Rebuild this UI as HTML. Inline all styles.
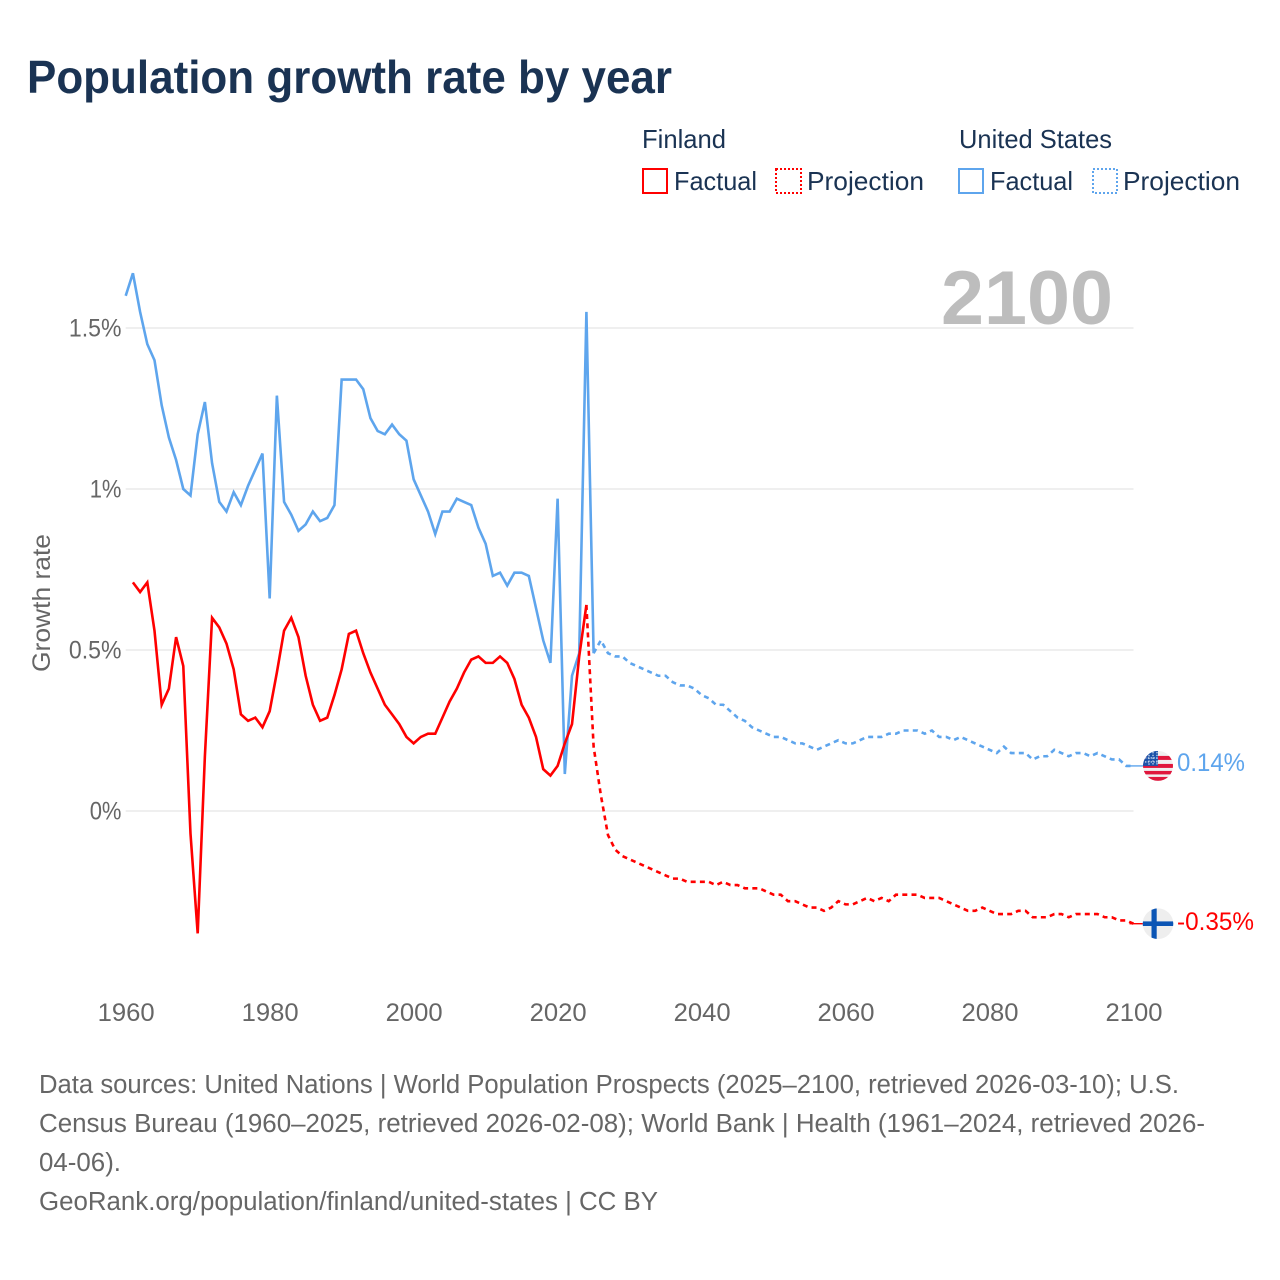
<!DOCTYPE html>
<html lang="en">
<head>
<meta charset="utf-8">
<title>Population growth rate by year</title>
<style>
html,body{margin:0;padding:0;background:#fff;}
svg{display:block;}
text{font-family:"Liberation Sans",sans-serif;}
</style>
</head>
<body>
<svg id="chart" xmlns="http://www.w3.org/2000/svg" width="1280" height="1280" viewBox="0 0 1280 1280">
  <text x="27" y="93" font-size="46" font-weight="700" fill="#1a3353" textLength="645" lengthAdjust="spacingAndGlyphs">Population growth rate by year</text>

  <g font-size="26" fill="#1a3353">
    <text x="642" y="148" textLength="84" lengthAdjust="spacingAndGlyphs">Finland</text>
    <rect x="643" y="169" width="24" height="24" fill="none" stroke="#ff0000" stroke-width="2"/>
    <text x="674" y="190" textLength="83" lengthAdjust="spacingAndGlyphs">Factual</text>
    <rect x="776" y="169" width="25" height="24" fill="none" stroke="#ff0000" stroke-width="2" stroke-dasharray="2 2"/>
    <text x="807" y="190" textLength="117" lengthAdjust="spacingAndGlyphs">Projection</text>
    <text x="959" y="148" textLength="153" lengthAdjust="spacingAndGlyphs">United States</text>
    <rect x="959" y="169" width="24" height="24" fill="none" stroke="#5ea5ed" stroke-width="2"/>
    <text x="990" y="190" textLength="83" lengthAdjust="spacingAndGlyphs">Factual</text>
    <rect x="1093" y="169" width="24" height="24" fill="none" stroke="#5ea5ed" stroke-width="2" stroke-dasharray="2 2"/>
    <text x="1123" y="190" textLength="117" lengthAdjust="spacingAndGlyphs">Projection</text>
  </g>

  <g id="grid"></g>

  <text x="1113" y="324" font-size="76" font-weight="700" fill="#bdbdbd" text-anchor="end" textLength="172" lengthAdjust="spacingAndGlyphs">2100</text>

  <g id="yticks"></g>
  <g id="xticks"></g>
  <text transform="translate(50,603) rotate(-90)" font-size="25" fill="#666666" text-anchor="middle" textLength="138" lengthAdjust="spacingAndGlyphs">Growth rate</text>

  <g id="series"></g>

  <g id="flag-us">
    <clipPath id="clip-us"><circle cx="0" cy="0" r="15"/></clipPath>
    <g clip-path="url(#clip-us)">
      <rect x="-15" y="-15" width="30" height="30" fill="#f0f0f0"/>
      <rect x="-15" y="-10" width="30" height="4" fill="#e0173d"/>
      <rect x="-15" y="-2" width="30" height="4" fill="#e0173d"/>
      <rect x="-15" y="5" width="30" height="3.5" fill="#e0173d"/>
      <rect x="-15" y="11" width="30" height="4" fill="#e0173d"/>
      <rect x="-15" y="-15" width="15" height="15" fill="#1b52a8"/>
      <path d="M-9-11v10M-5-14v13M-1-14v13M-13-8h13M-13-4h13" stroke="#e8eef8" stroke-width="1.1" stroke-dasharray="1.4 1.4" fill="none"/>
    </g>
  </g>
  <text id="label-us" x="1177" font-size="25" fill="#5ea5ed" textLength="68" lengthAdjust="spacingAndGlyphs"></text>

  <g id="flag-fi">
    <clipPath id="clip-fi"><circle cx="0" cy="0" r="15.3"/></clipPath>
    <g clip-path="url(#clip-fi)">
      <rect x="-16" y="-16" width="32" height="32" fill="#eeeeee"/>
      <rect x="-16" y="-2.3" width="32" height="4.6" fill="#0b55b5"/>
      <rect x="-6.5" y="-16" width="5.2" height="32" fill="#0b55b5"/>
    </g>
  </g>
  <text id="label-fi" x="1177" font-size="25" fill="#ff0000" textLength="77" lengthAdjust="spacingAndGlyphs"></text>

  <g font-size="25.5" fill="#666666">
    <text x="39" y="1093" textLength="1140" lengthAdjust="spacingAndGlyphs">Data sources: United Nations | World Population Prospects (2025–2100, retrieved 2026-03-10); U.S.</text>
    <text x="39" y="1132" textLength="1166" lengthAdjust="spacingAndGlyphs">Census Bureau (1960–2025, retrieved 2026-02-08); World Bank | Health (1961–2024, retrieved 2026-</text>
    <text x="39" y="1171" textLength="82" lengthAdjust="spacingAndGlyphs">04-06).</text>
    <text x="39" y="1210" textLength="619" lengthAdjust="spacingAndGlyphs">GeoRank.org/population/finland/united-states | CC BY</text>
  </g>
</svg>

<script>
const yTickValues = [0, 0.5, 1, 1.5];
const yTickLabels = ["0%", "0.5%", "1%", "1.5%"];
const xTickYears = [1960, 1980, 2000, 2020, 2040, 2060, 2080, 2100];

const usFactualStartYear = 1960;
const usFactual = [
  1.60,1.67,1.55,1.45,1.40,1.26,1.16,1.09,1.00,0.98,
  1.17,1.27,1.08,0.96,0.93,0.99,0.95,1.01,1.06,1.11,
  0.66,1.29,0.96,0.92,0.87,0.89,0.93,0.90,0.91,0.95,
  1.34,1.34,1.34,1.31,1.22,1.18,1.17,1.20,1.17,1.15,
  1.03,0.98,0.93,0.86,0.93,0.93,0.97,0.96,0.95,0.88,
  0.83,0.73,0.74,0.70,0.74,0.74,0.73,0.63,0.53,0.46,
  0.97,0.115,0.42,0.49,1.55,0.49
];

const usProjectionStartYear = 2025;
const usProjection = [
  0.49,0.53,0.49,0.48,0.48,0.46,0.45,0.44,0.43,0.42,0.42,
  0.40,0.39,0.39,0.38,0.36,0.35,0.33,0.33,0.31,0.29,
  0.28,0.26,0.25,0.24,0.23,0.23,0.22,0.21,0.21,0.20,
  0.19,0.20,0.21,0.22,0.21,0.21,0.22,0.23,0.23,0.23,
  0.24,0.24,0.25,0.25,0.25,0.24,0.25,0.23,0.23,0.22,
  0.23,0.22,0.21,0.20,0.19,0.18,0.20,0.18,0.18,0.18,
  0.16,0.17,0.17,0.19,0.18,0.17,0.18,0.18,0.17,0.18,
  0.17,0.16,0.16,0.14,0.14
];

const finlandFactualStartYear = 1961;
const finlandFactual = [
  0.71,0.68,0.71,0.56,0.33,0.38,0.54,0.45,-0.07,
  -0.38,0.17,0.60,0.57,0.52,0.44,0.30,0.28,0.29,0.26,
  0.31,0.43,0.56,0.60,0.54,0.42,0.33,0.28,0.29,0.36,
  0.44,0.55,0.56,0.49,0.43,0.38,0.33,0.30,0.27,0.23,
  0.21,0.23,0.24,0.24,0.29,0.34,0.38,0.43,0.47,0.48,
  0.46,0.46,0.48,0.46,0.41,0.33,0.29,0.23,0.13,0.11,
  0.14,0.21,0.27,0.48,0.64
];

const finlandProjectionStartYear = 2024;
const finlandProjection = [
  0.64,0.20,0.05,-0.075,-0.12,-0.14,-0.15,-0.16,-0.17,-0.18,-0.19,
  -0.20,-0.21,-0.21,-0.22,-0.22,-0.22,-0.22,-0.23,-0.22,-0.23,
  -0.23,-0.24,-0.24,-0.24,-0.25,-0.26,-0.26,-0.28,-0.28,-0.29,
  -0.30,-0.30,-0.31,-0.30,-0.28,-0.29,-0.29,-0.28,-0.27,-0.28,
  -0.27,-0.28,-0.26,-0.26,-0.26,-0.26,-0.27,-0.27,-0.27,-0.28,
  -0.29,-0.30,-0.31,-0.31,-0.30,-0.31,-0.32,-0.32,-0.32,-0.31,
  -0.31,-0.33,-0.33,-0.33,-0.32,-0.32,-0.33,-0.32,-0.32,-0.32,
  -0.32,-0.33,-0.33,-0.34,-0.34,-0.35
];

const NS = "http://www.w3.org/2000/svg";
const xOf = (year) => 125.7 + (year - 1960) * (1133.5 - 125.7) / 140;
const yOf = (v) => 811 - v * 322;
const tickWidth = (s) => {
  let w = 0;
  for (const c of s) w += c === "%" ? 17.5 : c === "." ? 6.5 : 14.3;
  return w;
};

const grid = document.getElementById("grid");
const yticks = document.getElementById("yticks");
yTickValues.forEach((v, i) => {
  const line = document.createElementNS(NS, "line");
  
  
  line.setAttribute("x1", xOf(1960));
  line.setAttribute("x2", xOf(2100));
  line.setAttribute("y1", yOf(v));
  line.setAttribute("y2", yOf(v));
  line.setAttribute("stroke", "#eaeaea");
  line.setAttribute("stroke-width", "1.5");
  grid.appendChild(line);

  const t = document.createElementNS(NS, "text");
  
  
  t.setAttribute("x", 121.5);
  t.setAttribute("y", yOf(v) + 8.5);
  t.setAttribute("text-anchor", "end");
  t.setAttribute("font-size", "25");
  t.setAttribute("fill", "#666666");
  t.setAttribute("textLength", tickWidth(yTickLabels[i]));
  t.setAttribute("lengthAdjust", "spacingAndGlyphs");
  t.textContent = yTickLabels[i];
  yticks.appendChild(t);
});

const xticks = document.getElementById("xticks");
xTickYears.forEach((yr) => {
  const t = document.createElementNS(NS, "text");
  
  
  t.setAttribute("x", xOf(yr) + 0.5);
  t.setAttribute("y", 1021);
  t.setAttribute("text-anchor", "middle");
  t.setAttribute("font-size", "25");
  t.setAttribute("fill", "#666666");
  t.setAttribute("textLength", "57");
  t.setAttribute("lengthAdjust", "spacingAndGlyphs");
  t.textContent = String(yr);
  xticks.appendChild(t);
});

const seriesGroup = document.getElementById("series");
function pointsOf(startYear, values) {
  return values.map((v, i) => xOf(startYear + i).toFixed(2) + "," + yOf(v).toFixed(2)).join(" ");
}
function addLine(name, startYear, values, color, dashed) {
  const p = document.createElementNS(NS, "polyline");
  
  
  p.setAttribute("points", pointsOf(startYear, values));
  p.setAttribute("fill", "none");
  p.setAttribute("stroke", color);
  p.setAttribute("stroke-width", "2.6");
  if (dashed) p.setAttribute("stroke-dasharray", "5 4.2");
  seriesGroup.appendChild(p);
}
function addConnector(name, value, color) {
  const l = document.createElementNS(NS, "line");
  
  
  l.setAttribute("x1", xOf(2100) - 4);
  l.setAttribute("x2", xOf(2100) + 10);
  l.setAttribute("y1", yOf(value));
  l.setAttribute("y2", yOf(value));
  l.setAttribute("stroke", color);
  l.setAttribute("stroke-width", "1.4");
  seriesGroup.appendChild(l);
}
const usColor = "#5ea5ed";
const fiColor = "#ff0000";
addLine("us-factual-line", usFactualStartYear, usFactual, usColor, false);
addLine("finland-factual-line", finlandFactualStartYear, finlandFactual, fiColor, false);
addLine("us-projection-line", usProjectionStartYear, usProjection, usColor, true);
addLine("finland-projection-line", finlandProjectionStartYear, finlandProjection, fiColor, true);

const usLast = usProjection[usProjection.length - 1];
const fiLast = finlandProjection[finlandProjection.length - 1];
addConnector("us-end-connector", usLast, usColor);
addConnector("finland-end-connector", fiLast, fiColor);

document.getElementById("flag-us").setAttribute("transform", "translate(1158," + yOf(usLast) + ")");
document.getElementById("flag-fi").setAttribute("transform", "translate(1158," + yOf(fiLast) + ")");
const labelUs = document.getElementById("label-us");
labelUs.setAttribute("y", yOf(usLast) + 5);
labelUs.textContent = usLast.toFixed(2) + "%";
const labelFi = document.getElementById("label-fi");
labelFi.setAttribute("y", yOf(fiLast) + 6.5);
labelFi.textContent = fiLast.toFixed(2) + "%";
</script>
</body>
</html>
